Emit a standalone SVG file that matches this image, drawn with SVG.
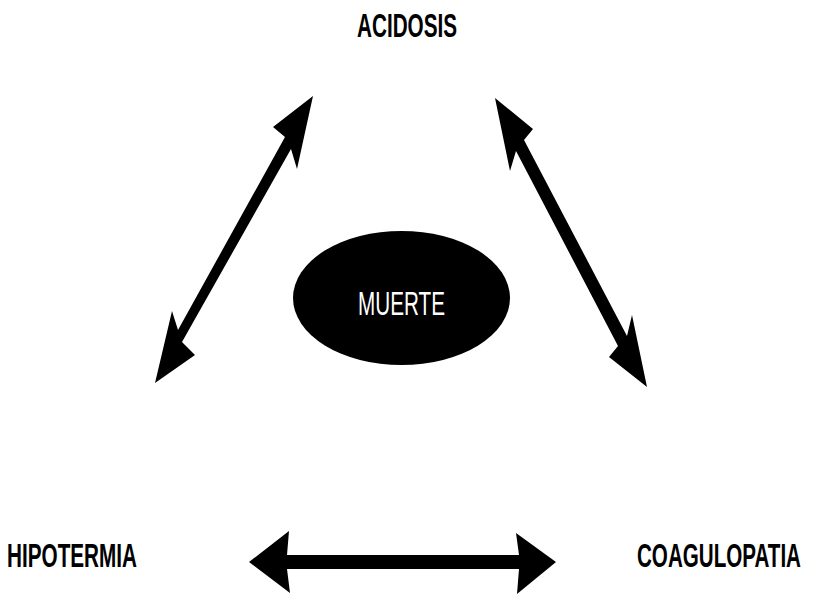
<svg xmlns="http://www.w3.org/2000/svg" width="813" height="597" viewBox="0 0 813 597">
  <style>
    .label { font-family: "Liberation Sans", Arial, sans-serif; font-weight: bold; font-size: 34px; fill: #000; }
    .center-label { font-family: "Liberation Sans", Arial, sans-serif; font-weight: normal; font-size: 34px; fill: #fff; }
    .arrow { fill: #000; stroke: none; }
  </style>
  <rect width="813" height="597" fill="#fff"/>

  <!-- two-headed connectors between the three conditions -->
  <g id="connectors">
    <!-- ACIDOSIS <-> HIPOTERMIA -->
    <polygon class="arrow" points="313,96 297,169 291,149 182,342 195,355 155,383 172,311 178,330 285,137 273,127"/>
    <!-- ACIDOSIS <-> COAGULOPATIA -->
    <polygon class="arrow" points="495,98 533,129 524,140 627,336 632,315 647,387 609,357 618,346 516,151 510,171"/>
    <!-- HIPOTERMIA <-> COAGULOPATIA -->
    <polygon class="arrow" points="249,562 289,531 287,555 519,555 516,533 556,562 517,594 519,569 287,569 290,593"/>
  </g>

  <!-- labels use a horizontally condensed bold face (scale 0.6) -->
  <g id="acidosis">
    <text class="label" transform="translate(357,37) scale(0.6,1)" textLength="166.7" lengthAdjust="spacingAndGlyphs">ACIDOSIS</text>
  </g>

  <g id="hipotermia">
    <text class="label" transform="translate(7,567) scale(0.6,1)" textLength="216.7" lengthAdjust="spacingAndGlyphs">HIPOTERMIA</text>
  </g>

  <g id="coagulopatia">
    <text class="label" transform="translate(637,567) scale(0.6,1)" textLength="273.3" lengthAdjust="spacingAndGlyphs">COAGULOPATIA</text>
  </g>

  <g id="muerte">
    <ellipse cx="401.5" cy="298" rx="108.5" ry="67" fill="#000"/>
    <text class="center-label" transform="translate(358,315) scale(0.6,1)" textLength="145" lengthAdjust="spacingAndGlyphs">MUERTE</text>
  </g>
</svg>
